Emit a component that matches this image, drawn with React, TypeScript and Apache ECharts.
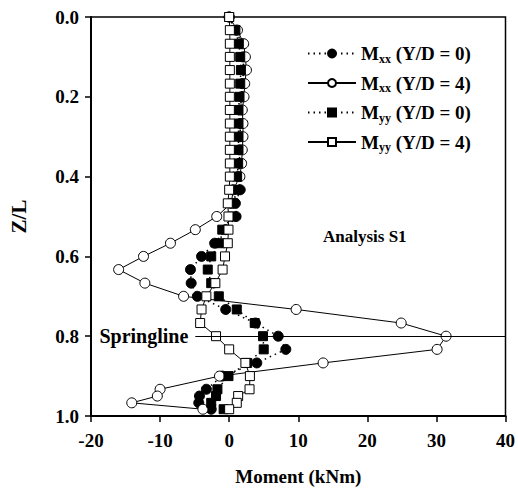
import React, { useEffect, useRef } from "react";
import * as echarts from "echarts";

// Normalised depth Z/L of each node (finer spacing near the tip)
const Z_L = [
  0, 0.033, 0.067, 0.1, 0.133, 0.167, 0.2, 0.233, 0.267, 0.3, 0.333, 0.367,
  0.4, 0.433, 0.467, 0.5, 0.533, 0.567, 0.6, 0.633, 0.667, 0.7, 0.733, 0.767,
  0.8, 0.833, 0.867, 0.9, 0.933, 0.95, 0.967, 0.983,
];

// Bending moments (kNm)
const MXX_YD0 = [
  0, 1.0, 1.8, 2.0, 2.1, 1.9, 1.8, 1.6, 1.6, 1.6, 1.5, 1.5,
  1.3, 1.6, 0.9, 1.0, -0.5, -2.1, -4.0, -5.6, -5.5, -4.6, -0.5, 3.8,
  7.1, 8.2, 4.0, -1.0, -3.3, -4.3, -4.4, -2.6,
];
const MXX_YD4 = [
  0, 1.2, 2.1, 2.35, 2.5, 2.25, 2.15, 1.9, 2.0, 2.0, 1.9, 1.8,
  1.55, 0.6, 0.3, -1.8, -4.9, -8.5, -12.4, -16.0, -12.2, -6.6, 9.7, 24.9,
  31.4, 30.1, 13.6, -1.4, -10.0, -10.4, -14.1, -3.8,
];
const MYY_YD0 = [
  0, 0.9, 1.4, 1.6, 1.7, 1.6, 1.5, 1.35, 1.35, 1.35, 1.35, 1.3,
  1.15, 1.1, 0.6, 0.5, -1.0, -1.3, -2.6, -3.1, -2.6, -1.5, 1.1, 3.7,
  4.9, 5.0, 2.6, -0.1, -1.7, -1.9, -2.6, -0.8,
];
const MYY_YD4 = [
  0, 0.1, 0.1, 0.1, 0.1, 0.1, 0.1, 0.1, 0.1, 0.1, 0.1, 0.1,
  0.1, 0.0, -0.2, -0.1, -0.1, -0.2, -0.6, -0.95, -2.0, -3.3, -4.0, -4.2,
  -1.9, 0.0, 2.35, 3.0, 2.95, 1.3, 1.1, 0.0,
];

const X_TICKS = { min: -20, max: 40, interval: 10 };
const Y_TICKS = { min: 0, max: 1, interval: 0.2 };
const SPRINGLINE_Z = 0.8;
const SPRINGLINE_START = -4.9;

const FONT = "'Liberation Serif', 'Times New Roman', serif";

const toPoints = (vals: number[]) => vals.map((v, i) => [v, Z_L[i]]);

export default function App() {
  const ref = useRef<HTMLDivElement>(null);

  useEffect(() => {
    if (!ref.current) return;
    const chart = echarts.init(ref.current, undefined, { renderer: "svg" });

    const base = {
      type: "line" as const,
      symbolSize: 10,
      z: 3,
    };

    const txt = { fontFamily: FONT, fontWeight: "bold" as const, color: "#000" };

    chart.setOption({
      animation: false,
      backgroundColor: "#fff",
      grid: {
        left: 85,
        right: 8,
        top: 17,
        bottom: 71,
        show: true,
        borderColor: "#000",
        borderWidth: 1.5,
      },
      legend: {
        orient: "vertical",
        left: 302,
        top: 39,
        itemWidth: 48,
        itemHeight: 10,
        itemGap: 9,
        textStyle: {
          ...txt,
          fontSize: 19,
          rich: {
            m: { ...txt, fontSize: 19 },
            s: { ...txt, fontSize: 12, padding: [10, 0, 0, 0] },
            t: { ...txt, fontSize: 19 },
          },
        },
        formatter: (name: string) => {
          const m = name.match(/^M(\w+) (.*)$/);
          if (!m) return name;
          return `{m|M}{s|${m[1]}}{t| ${m[2]}}`;
        },
        data: ["Mxx (Y/D = 0)", "Mxx (Y/D = 4)", "Myy (Y/D = 0)", "Myy (Y/D = 4)"],
      },
      xAxis: {
        type: "value",
        min: X_TICKS.min,
        max: X_TICKS.max,
        interval: X_TICKS.interval,
        name: "Moment (kNm)",
        nameLocation: "middle",
        nameGap: 51,
        nameTextStyle: { ...txt, fontSize: 19 },
        axisLine: { onZero: false, lineStyle: { color: "#000", width: 2 } },
        axisTick: { show: true, inside: false, length: 6, lineStyle: { color: "#000", width: 1.5 } },
        axisLabel: { ...txt, fontSize: 19, margin: 15 },
        splitLine: { show: false },
      },
      yAxis: {
        type: "value",
        inverse: true,
        min: Y_TICKS.min,
        max: Y_TICKS.max,
        interval: Y_TICKS.interval,
        name: "Z/L",
        nameLocation: "middle",
        nameGap: 62,
        nameTextStyle: { ...txt, fontSize: 21 },
        axisLine: { onZero: false, lineStyle: { color: "#000", width: 2 } },
        axisTick: { show: true, inside: false, length: 6, lineStyle: { color: "#000", width: 1.5 } },
        axisLabel: {
          ...txt,
          fontSize: 19,
          margin: 12,
          formatter: (v: number) => v.toFixed(1),
        },
        splitLine: { show: false },
      },
      graphic: [
        {
          type: "text",
          left: 323,
          top: 228,
          style: {
            text: "Analysis S1",
            font: `bold 17px ${FONT}`,
            fill: "#000",
          },
        },
      ],
      series: [
        {
          ...base,
          name: "Mxx (Y/D = 0)",
          data: toPoints(MXX_YD0),
          symbol: "circle",
          itemStyle: { color: "#000", borderColor: "#000", borderWidth: 1 },
          lineStyle: { color: "#000", width: 1.5, type: [1.5, 4] },
          markLine: {
            silent: true,
            symbol: "none",
            lineStyle: { color: "#000", width: 1, type: "solid" },
            label: {
              show: true,
              position: "start",
              distance: 7,
              formatter: "Springline",
              ...txt,
              fontSize: 20,
            },
            data: [
              [
                { coord: [SPRINGLINE_START, SPRINGLINE_Z] },
                { coord: [X_TICKS.max, SPRINGLINE_Z] },
              ],
            ],
          },
        },
        {
          ...base,
          name: "Mxx (Y/D = 4)",
          data: toPoints(MXX_YD4),
          symbol: "circle",
          itemStyle: { color: "#fff", borderColor: "#000", borderWidth: 1 },
          lineStyle: { color: "#000", width: 1, type: "solid" },
        },
        {
          ...base,
          name: "Myy (Y/D = 0)",
          data: toPoints(MYY_YD0),
          symbol: "rect",
          symbolSize: 9,
          itemStyle: { color: "#000", borderColor: "#000", borderWidth: 1 },
          lineStyle: { color: "#000", width: 1.5, type: [1.5, 4] },
        },
        {
          ...base,
          name: "Myy (Y/D = 4)",
          data: toPoints(MYY_YD4),
          symbol: "rect",
          symbolSize: 9,
          itemStyle: { color: "#fff", borderColor: "#000", borderWidth: 1 },
          lineStyle: { color: "#000", width: 1, type: "solid" },
        },
      ],
    });

    return () => chart.dispose();
  }, []);

  return (
    <div
      ref={ref}
      style={{ position: "fixed", left: 0, top: 0, width: 518, height: 491 }}
    />
  );
}
